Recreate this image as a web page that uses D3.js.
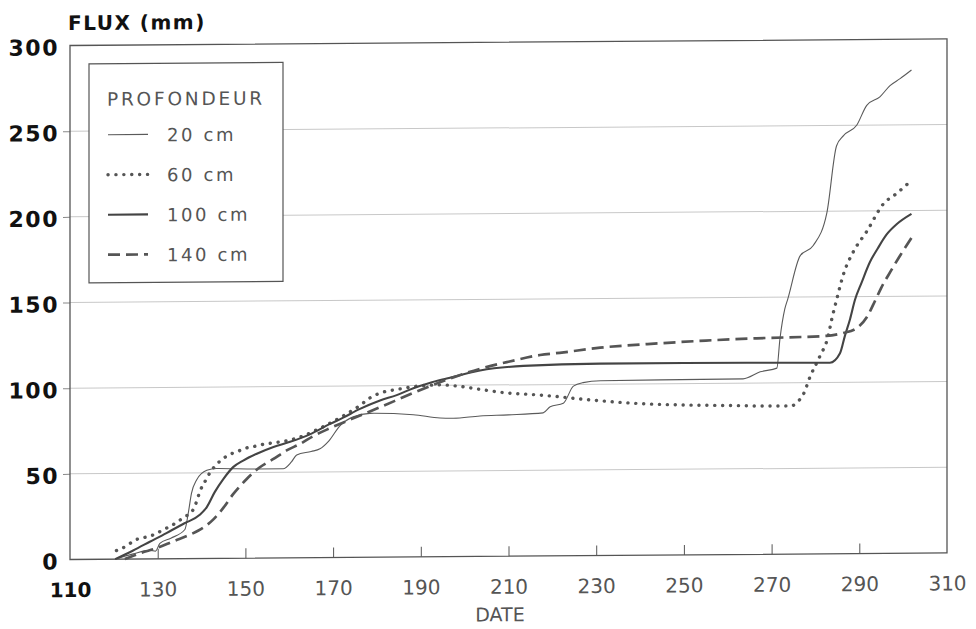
<!DOCTYPE html>
<html>
<head>
<meta charset="utf-8">
<script src="https://cdn.jsdelivr.net/npm/d3@7"></script>
<style>
  html, body { margin: 0; background: #fff; }
  svg { display: block; }
  text { font-family: "DejaVu Sans", sans-serif; }
</style>
</head>
<body>
<script>
// cumulative flux (mm) against day of year, one array per depth
var depth20 = [[120.3,0],[124.4,3],[128.2,5],[129.5,4.5],[130.5,9],[133,12],[136.2,17],[137,27],[137.7,38],
  [138.9,46],[141.2,51.5],[143.4,52.5],[152.6,52],[158.6,52],[160.5,56],[161.7,60],[165,62],[167,63.5],
  [169,68],[171.6,77],[174.6,82],[178.4,84],[188.3,83],[194.4,81],[197.4,80.8],[203.5,82],[210,82.5],
  [217.9,83.5],[219.5,87],[222.5,89],[224.8,99],[227,101],[231,102],[263.5,102.5],[267.4,106.5],
  [271.2,108.6],[271.9,125.6],[273,143],[273.7,149],[276.5,174],[279.5,180],[282.6,199],[284.8,238],
  [286.4,244],[289.4,250],[291.7,261.6],[294.7,266.5],[297,273],[299.3,277],[301.9,282]];
var depth60 = [[120.6,5],[122.9,7.7],[124.8,11],[127.1,12.6],[129,14],[131.3,17],[133.2,19.4],[134.7,21.9],
  [136.2,24.4],[138.1,28.6],[138.9,33.5],[139.6,39],[140.8,45],[141.9,50],[143.8,55.8],[145.7,59.6],
  [148.4,62.5],[150.3,64.4],[152.2,65.3],[154.5,66.6],[156.4,67.2],[158.6,68],[160.5,69],[162.5,70.5],
  [167,75.5],[173.1,83.8],[176.1,88.6],[178.4,93],[181.4,96.3],[184.5,97.8],[189.8,99.8],[194.4,100.3],
  [199,99.3],[203.5,97.5],[209.6,95.3],[215.7,94.2],[221,93],[224.8,91.9],[230.1,90.5],[240,88.5],
  [250,87.5],[260,87],[270,86.5],[274.5,86.5],[276,89],[277.2,93],[278.8,103.6],[281,115.3],[282.9,127],
  [283.7,136.7],[284.8,148],[286.5,164],[288.6,176],[291.7,188],[295.5,204],[298.5,210],[301.2,216]];
var depth100 = [[120.3,0],[124.4,5],[128.2,10],[132,15],[136,20.5],[139.6,25.5],[141.2,30],[143,38.7],
  [145,46.4],[147.2,53.2],[149.5,57],[152.6,60.9],[156.4,64.8],[160.2,67.7],[164.7,72],[169.3,78],
  [172.3,81.6],[176,86.5],[180.7,91.5],[184.5,94.5],[188.3,98.5],[192,101.5],[195.9,104],[203.5,108.5],
  [213.4,111],[230.9,112],[250,112],[270,111.8],[283.3,111.5],[285.6,117],[286.7,127],[287.9,137],
  [289,148],[290.5,158],[292.4,170],[294.2,178],[296.2,186],[298.5,192],[301.9,198]];
var depth140 = [[122.5,0],[126,3.4],[129.8,6.3],[133.6,10.2],[137.4,14],[140.4,18],[142.7,22.8],[145,29.6],
  [147.2,37.4],[150.3,46.2],[153.3,53],[156.4,57.8],[159.4,62.7],[162.5,66.5],[165.5,71],[169.3,75.5],
  [173.1,79.6],[180.7,87.5],[188.3,95.7],[195.9,103.3],[203.5,109.5],[210,113.5],[217.2,117.3],
  [221.7,118.5],[230.9,121.3],[244.5,123.6],[255,125],[266.6,126.1],[282.5,127.2],[286.3,128.8],
  [289.4,131.6],[291.7,137.9],[293.6,147.5],[295,155],[297,164],[299,172.5],[301.9,184]];

var legendLabels = ["20 cm", "60 cm", "100 cm", "140 cm"];
var xTicks = [110, 130, 150, 170, 190, 210, 230, 250, 270, 290, 310];
var yTicks = [0, 50, 100, 150, 200, 250, 300];
var gridValues = [50, 100, 150, 200, 250];

var styles = [
  { color: "#5a5a5a", width: 1.1, dash: null, cap: "butt" },
  { color: "#555", width: 3.4, dash: "0.1 7.8", cap: "round" },
  { color: "#444", width: 2.1, dash: null, cap: "butt" },
  { color: "#555", width: 2.7, dash: "12 6", cap: "butt" }
];
var series = [depth20, depth60, depth100, depth140];

var width = 877, height = 514;

var svg = d3.select("body").append("svg")
  .attr("width", 976)
  .attr("height", 629);

// the scanned figure is slightly tilted: horizontals drop ~6px across the frame
var g = svg.append("g").attr("transform", "translate(70,45.5) skewY(-0.43)");

var x = d3.scaleLinear().domain([110, 310]).range([0, width]);
var y = d3.scaleLinear().domain([0, 300]).range([height, 0]);

// grid
g.append("g").selectAll("line")
  .data(gridValues)
  .join("line")
  .attr("x1", 0).attr("x2", width)
  .attr("y1", function(d) { return y(d); })
  .attr("y2", function(d) { return y(d); })
  .attr("stroke", "#c8c8c8")
  .attr("stroke-width", 1);

// y axis
var yAxis = g.append("g").call(d3.axisLeft(y).tickValues(yTicks).tickSize(7).tickPadding(4));
yAxis.select(".domain").remove();
yAxis.selectAll(".tick line")
  .attr("stroke", "#888")
  .attr("opacity", function(d) { return (d === 0 || d === 300) ? 0 : 1; });
yAxis.selectAll(".tick text")
  .attr("dy", "0.42em")
  .attr("fill", "#111")
  .style("font-size", "22px")
  .style("font-weight", "bold")
  .style("letter-spacing", "1.5px");

// x axis, ticks pointing inward
var xAxis = g.append("g")
  .attr("transform", "translate(0," + height + ")")
  .call(d3.axisBottom(x).tickValues(xTicks).tickSize(-10));
xAxis.select(".domain").remove();
xAxis.selectAll(".tick line")
  .attr("stroke", "#555")
  .attr("opacity", function(d) { return (d === 110 || d === 310) ? 0 : 1; });
xAxis.selectAll(".tick text")
  .attr("y", 37.5)
  .attr("dy", null)
  .attr("fill", function(d, i) { return i === 0 ? "#111" : "#555"; })
  .style("font-weight", function(d, i) { return i === 0 ? "bold" : "normal"; })
  .style("font-size", "20px");

// frame
g.append("rect")
  .attr("width", width).attr("height", height)
  .attr("fill", "none")
  .attr("stroke", "#555")
  .attr("stroke-width", 1.3);

// legend
var leg = g.append("g").attr("transform", "translate(19,18.5)");
leg.append("rect")
  .attr("width", 194).attr("height", 219)
  .attr("fill", "#fff")
  .attr("stroke", "#555")
  .attr("stroke-width", 1.2);
leg.append("text")
  .attr("x", 18).attr("y", 42)
  .attr("fill", "#555")
  .style("font-size", "18.5px")
  .style("letter-spacing", "2.8px")
  .text("PROFONDEUR");

var item = leg.selectAll(".item")
  .data(legendLabels)
  .join("g")
  .attr("class", "item")
  .attr("transform", function(d, i) { return "translate(0," + (71 + i * 40) + ")"; });
item.append("line")
  .attr("x1", 19).attr("x2", 59)
  .attr("stroke", function(d, i) { return styles[i].color; })
  .attr("stroke-width", function(d, i) { return styles[i].width; })
  .attr("stroke-dasharray", function(d, i) { return styles[i].dash; })
  .attr("stroke-linecap", function(d, i) { return styles[i].cap; });
item.append("text")
  .attr("x", 78).attr("y", 7)
  .attr("fill", "#555")
  .style("font-size", "18px")
  .style("letter-spacing", "2.6px")
  .text(function(d) { return d; });

// curves
var line = d3.line()
  .x(function(d) { return x(d[0]); })
  .y(function(d) { return y(d[1]); })
  .curve(d3.curveMonotoneX);

g.append("g").selectAll("path")
  .data(series)
  .join("path")
  .attr("d", line)
  .attr("fill", "none")
  .attr("stroke", function(d, i) { return styles[i].color; })
  .attr("stroke-width", function(d, i) { return styles[i].width; })
  .attr("stroke-dasharray", function(d, i) { return styles[i].dash; })
  .attr("stroke-linecap", function(d, i) { return styles[i].cap; })
  .attr("stroke-linejoin", "round");

// axis titles
g.append("text")
  .attr("x", -2).attr("y", -15.5)
  .attr("fill", "#111")
  .style("font-size", "20px")
  .style("font-weight", "bold")
  .style("letter-spacing", "1.5px")
  .text("FLUX (mm)");

g.append("text")
  .attr("x", 430).attr("y", 579)
  .attr("text-anchor", "middle")
  .attr("fill", "#555")
  .style("font-size", "19px")
  .text("DATE");
</script>
</body>
</html>
